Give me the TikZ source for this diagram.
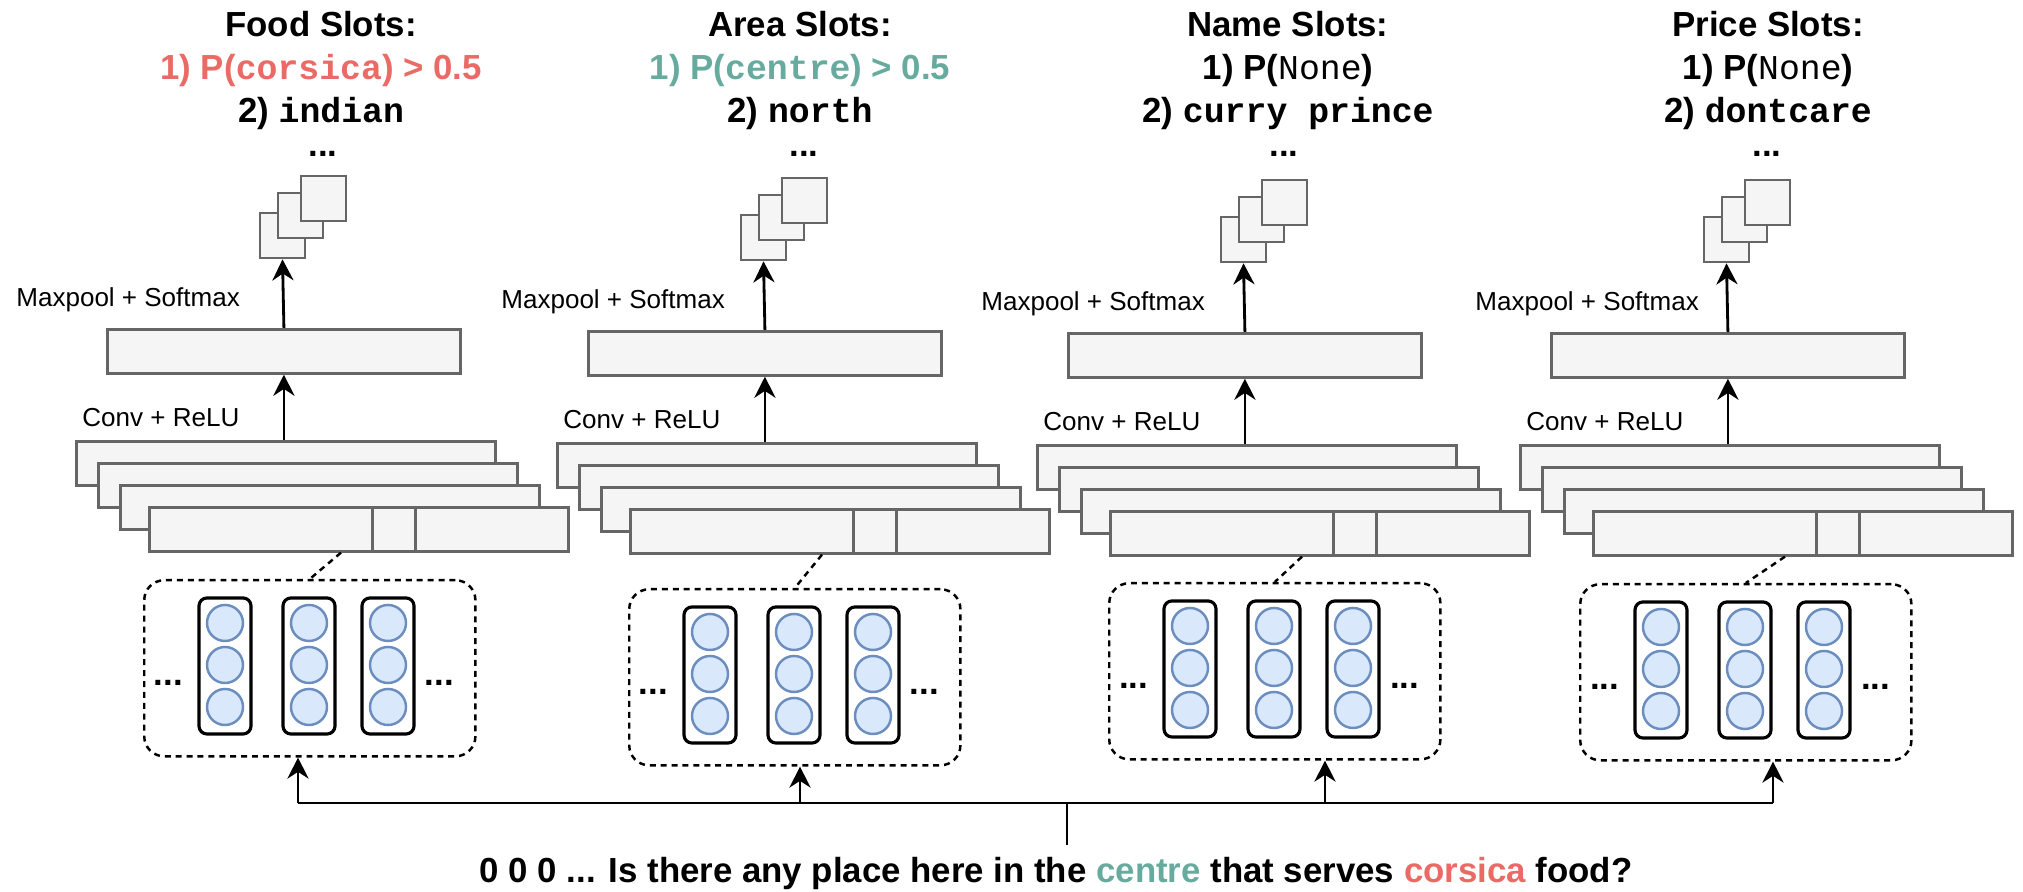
\documentclass[tikz,border=0pt]{standalone}
\usepackage{fontspec}
\setmainfont{Liberation Sans}
\setmonofont{Liberation Mono}
\usetikzlibrary{arrows.meta,calc}

\definecolor{slotred}{HTML}{EA6B66}
\definecolor{slotteal}{HTML}{67AB9F}
\definecolor{fmapfill}{HTML}{F5F5F5}
\definecolor{fmapline}{HTML}{666666}
\definecolor{unitfill}{HTML}{DAE8FC}
\definecolor{unitline}{HTML}{6C8EBF}

\tikzset{
  fmap/.style={draw=fmapline, fill=fmapfill, line width=0.75pt, inner sep=0pt},
  convbox/.style={fmap, minimum width=4.19cm, minimum height=0.44cm, anchor=north west},
  poolbox/.style={fmap, minimum width=3.53cm, minimum height=0.44cm, anchor=north west},
  outbox/.style={fmap, minimum size=0.45cm},
  unit/.style={circle, draw=unitline, fill=unitfill, line width=0.7pt, minimum size=0.36cm, inner sep=0pt},
  unitcol/.style={draw, rounded corners=0.08cm, line width=0.9pt, minimum width=0.52cm, minimum height=1.36cm, inner sep=0pt},
  winbox/.style={draw, dash pattern=on 1.7pt off 1.4pt, rounded corners=0.2cm, line width=0.7pt, minimum width=3.31cm, minimum height=1.76cm, anchor=north west, inner sep=0pt},
  lbl/.style={font=\fontsize{7.4}{9}\selectfont, inner sep=0pt, anchor=base west},
  ttl/.style={font=\fontsize{9.9}{12}\selectfont\bfseries, inner sep=0pt, anchor=base},
}

\begin{document}
\begin{tikzpicture}[x=0.01cm, y=-0.01cm, >={Stealth[length=6pt,width=6pt]}, line width=0.8pt]
\useasboundingbox (0,0) rectangle (2023,892);
\node[ttl] (food) at (321,37) {Food Slots:};
\node[ttl, text=slotred] (foodp) at (321,80) {1) P(\texttt{corsica}) > 0.5};
\node[ttl] (foodv) at (321,123) {2) \texttt{indian}};
\node[ttl] (area) at (800,37) {Area Slots:};
\node[ttl, text=slotteal] (areap) at (800,80) {1) P(\texttt{centre}) > 0.5};
\node[ttl] (areav) at (800,123) {2) \texttt{north}};
\node[ttl] (name) at (1288,37) {Name Slots:};
\node[ttl] (namep) at (1288,80) {1) P(\texttt{\mdseries None})};
\node[ttl] (namev) at (1288,123) {2) \texttt{curry prince}};
\node[ttl] (price) at (1768,37) {Price Slots:};
\node[ttl] (pricep) at (1768,80) {1) P(\texttt{\mdseries None})};
\node[ttl] (pricev) at (1768,123) {2) \texttt{dontcare}};
\foreach \i/\mx/\my/\bx/\by/\ax/\lx in {1/106/328/143/579/298/15, 2/587/330/628/588/800/500, 3/1067/332/1108/582/1325/980, 4/1550/332/1579/583/1773/1474} {
  \node[ttl] (dots\i) at (\mx+217,157) {...};
  \node[outbox] (sqa\i) at (\mx+176.5,\my-92.5) {};
  \node[outbox] (sqb\i) at (\mx+194.5,\my-112.5) {};
  \node[outbox] (sqc\i) at (\mx+217.5,\my-129.5) {};
  \node[poolbox] (mp\i) at (\mx,\my) {};
  \node[lbl] (mpl\i) at (\lx,\my-21) {Maxpool + Softmax};
  \node[convbox] (ca\i) at (\mx-31,\my+112) {};
  \node[convbox] (cb\i) at (\mx-9,\my+134) {};
  \node[convbox] (cc\i) at (\mx+13,\my+156) {};
  \node[convbox] (cd\i) at (\mx+42,\my+178) {};
  \node[fmap, minimum width=0.43cm, minimum height=0.44cm, anchor=north west] (cell\i) at (\mx+265,\my+178) {};
  \node[lbl] (cvl\i) at (\mx-25,\my+99) {Conv + ReLU};
  \draw[->] (mp\i.north) -- (sqa\i.south);
  \draw[->] (mp\i.south |- ca\i.north) -- (mp\i.south);
  \node[winbox] (win\i) at (\bx,\by) {};
  \draw[dash pattern=on 1.7pt off 1.4pt, line width=0.7pt] ($(cell\i.south west)+(-30,0)$) -- (win\i.north);
  \foreach \c/\cx in {1/82,2/166,3/245} {
    \node[unitcol] (col\i\c) at (\bx+\cx,\by+87) {};
    \foreach \r/\cy in {1/44,2/86,3/128}
      \node[unit] (u\i\c\r) at (\bx+\cx,\by+\cy) {};
  }
  \node[ttl] (ld\i) at (\bx+25.5,\by+107) {...};
  \node[ttl] (rd\i) at (\bx+296.5,\by+107) {...};
  \coordinate (in\i) at (\ax,803);
  \draw[->] (in\i) -- (in\i |- win\i.south);
}
\node[ttl, inner sep=0.3333em] (sent) at (1056,883) {0 0 0 ... Is there any place here in the \textcolor{slotteal}{centre} that serves \textcolor{slotred}{corsica} food?};
\coordinate (tap) at (1067,803);
\draw (in1) -- (in4);
\draw[line width=0.7pt] (tap) -- (tap |- sent.north);
\end{tikzpicture}
\end{document}
